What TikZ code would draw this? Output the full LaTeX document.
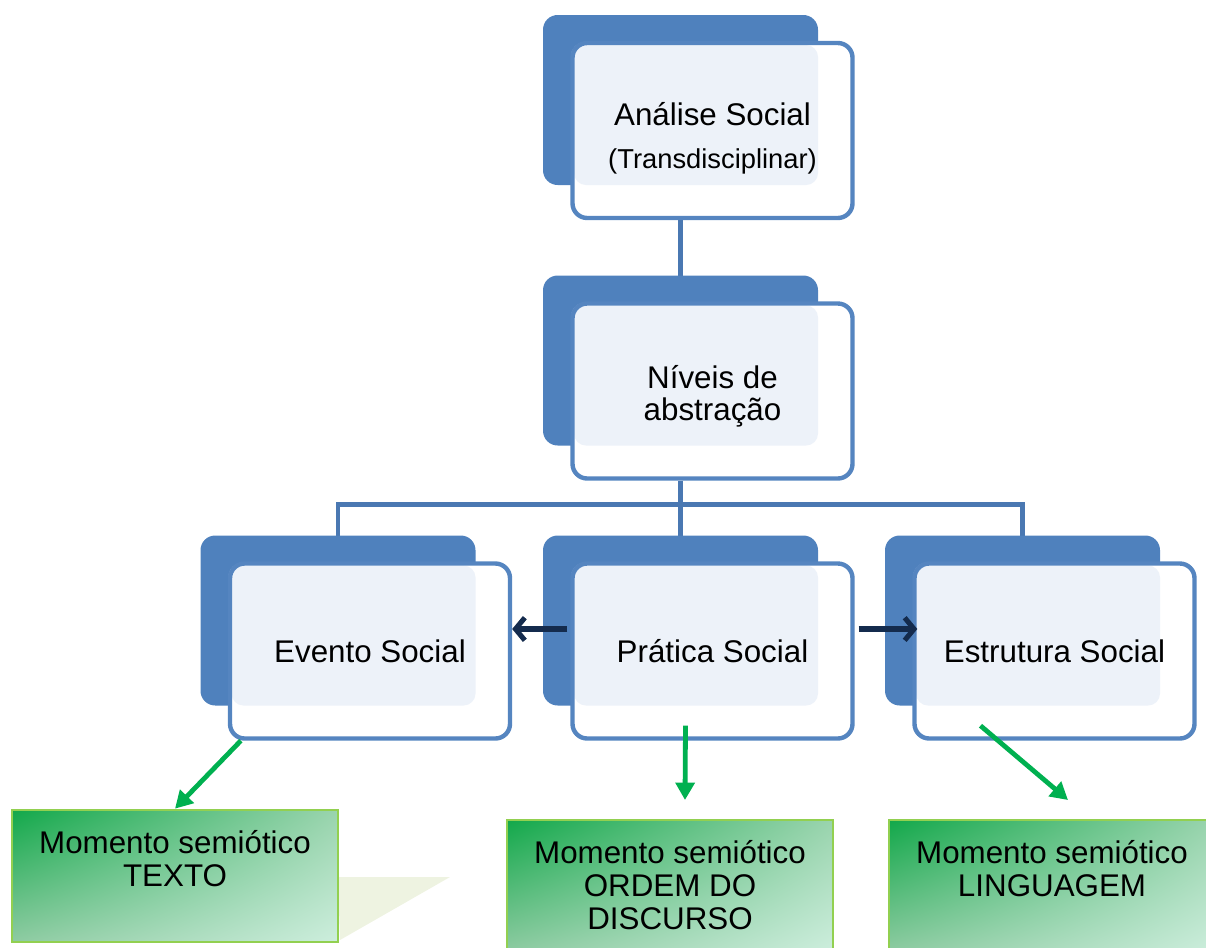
\documentclass[tikz,border=0pt]{standalone}
\usepackage{fontspec}
\setmainfont{Liberation Sans}
\usetikzlibrary{arrows.meta,calc,backgrounds,shadings}
\definecolor{backblue}{HTML}{4F81BD}
\definecolor{boxblue}{HTML}{5585C0}
\definecolor{lightfill}{HTML}{EDF2F9}
\definecolor{connblue}{HTML}{4A78B2}
\definecolor{navy}{HTML}{142B4D}
\definecolor{garrowc}{HTML}{00B050}
\definecolor{gborder}{HTML}{92D050}
\definecolor{gul}{HTML}{12A84A}
\definecolor{gur}{HTML}{9AD4AE}
\definecolor{gll}{HTML}{8ECBA2}
\definecolor{glr}{HTML}{CDEEDD}
\definecolor{shadowc}{HTML}{EEF3E1}
\tikzset{
  frontbox/.style={draw=boxblue, line width=3.3pt, rounded corners=11pt,
    minimum width=210pt, minimum height=131.25pt, align=center, inner sep=0pt,
    font=\fontsize{23.5}{24}\selectfont},
  conn/.style={draw=connblue, line width=3.3pt},
  navyarrow/.style={draw=navy, line width=3.8pt, -{Straight Barb[length=7pt,width=17pt]}},
  garrow/.style={draw=garrowc, line width=3.6pt, -{Triangle[length=13pt,width=14pt]}},
  greenbox/.style={draw=gborder, line width=2pt, minimum width=244.5pt, minimum height=99pt,
    inner sep=0pt, upper left=gul, upper right=gur, lower left=gll, lower right=glr},
  gtext/.style={align=center, inner sep=0pt, font=\fontsize{23.5}{25}\selectfont, anchor=north}
}
\newcommand{\smartbox}[4]{%
  \fill[backblue, rounded corners=11pt] (#2-169.5,#3-115.5) rectangle (#2+105.5,#3+54.5);
  \fill[white, rounded corners=11pt] (#2-141.5,#3-88.5) rectangle (#2+141.5,#3+88.5);
  \fill[lightfill, rounded corners=9pt] (#2-138.5,#3-85.5) rectangle (#2+105.5,#3+54.5);
  \node[frontbox] (#1) at (#2,#3) {#4};
  \coordinate (#1-c) at (#2-32,#3);
}
\begin{document}
\begin{tikzpicture}[x=0.75pt,y=-0.75pt]
\useasboundingbox (0,0) rectangle (1206,947);
\smartbox{top}{712.5}{130.5}{\rule{0pt}{29pt}Análise Social\\[8pt]{\fontsize{20.5}{24}\selectfont (Transdisciplinar)}}
\smartbox{mid}{712.5}{391}{\rule{0pt}{25pt}Níveis de\\abstração}
\smartbox{left}{370}{651}{Evento Social}
\smartbox{prat}{712.5}{651}{Prática Social}
\smartbox{right}{1054.5}{651}{Estrutura Social}

\begin{pgfonlayer}{background}
  \draw[conn] (top-c |- top.south) -- (top-c |- mid.north);
  \draw[conn] (mid-c |- mid.south) -- (mid-c |- prat.north);
  \draw[conn] (left-c |- left.north) -- ++(0,-57) -| (right-c |- right.north);
  \fill[shadowc] (338,877) -- (450,877) -- (340,940) -- cycle;
\end{pgfonlayer}

\draw[navyarrow] ($(prat.west)+(-3,-22)$) -- ($(left.east)+(0,-22)$);
\draw[navyarrow] ($(prat.east)+(4,-22)$) -- ($(right.west)+(5,-22)$);

\node[greenbox] (gl) at (175,876) {};
\node[greenbox] (gm) at (670,886) {};
\node[greenbox] (gr) at (1052,886) {};
\node[gtext] (glt) at ($(gl.north)+(0,21)$) {Momento semiótico\\TEXTO};
\node[gtext] (gmt) at ($(gm.north)+(0,21)$) {Momento semiótico\\ORDEM DO\\DISCURSO};
\node[gtext] (grt) at ($(gr.north)+(0,21)$) {Momento semiótico\\LINGUAGEM};

\coordinate (gmend) at (685,800);
\coordinate (grend) at (1068,800);
\draw[garrow] ($(left.south west)+(13,0)$) -- (gl.north);
\draw[garrow] ($(prat.south)+(-27,-15)$) -- (gmend);
\draw[garrow] ($(right.south)+(-74,-15)$) -- (grend);
\end{tikzpicture}
\end{document}
